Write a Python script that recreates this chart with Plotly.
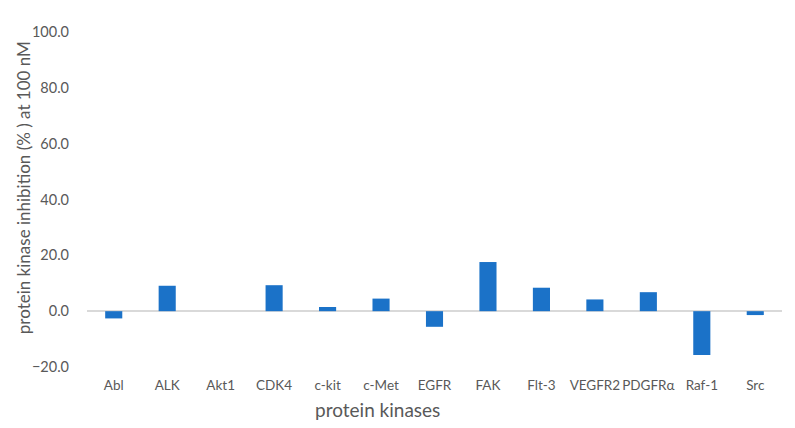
import plotly.graph_objects as go

kinases = ["Abl", "ALK", "Akt1", "CDK4", "c-kit", "c-Met", "EGFR", "FAK",
           "Flt-3", "VEGFR2", "PDGFRα", "Raf-1", "Src"]
inhibition = [-2.6, 9.1, 0.0, 9.3, 1.5, 4.5, -5.6, 17.6, 8.4, 4.2, 6.8, -15.7, -1.4]

y_ticks = [-20, 0, 20, 40, 60, 80, 100]

font_family = "Lato, 'Open Sans', sans-serif"
grey = "#595959"

fig = go.Figure(go.Bar(
    x=kinases, y=inhibition,
    marker=dict(color="#1b72c8", line=dict(width=0)),
))

fig.update_layout(
    width=795, height=428,
    margin=dict(l=79, r=21, t=24, b=69),
    paper_bgcolor="white", plot_bgcolor="white",
    bargap=0.68,
    showlegend=False,
    font=dict(family=font_family, color=grey),
    xaxis=dict(
        tickfont=dict(size=13.5, color=grey),
        tickangle=0,
        showgrid=False, showline=False, ticks="",
        zeroline=False,
        ticklabelstandoff=8,
    ),
    yaxis=dict(
        range=[-20, 100],
        tickvals=y_ticks,
        tickformat=".1f",
        tickfont=dict(size=14.5, color=grey),
        showgrid=False, showline=False, ticks="",
        zeroline=True, zerolinecolor="#d9d9d9", zerolinewidth=2,
        ticklabelstandoff=17,
    ),
    annotations=[
        dict(text="protein kinases", xref="paper", yref="paper",
             x=0.418, y=-0.128, xanchor="center", yanchor="middle",
             showarrow=False, font=dict(size=19, color=grey)),
        dict(text="protein kinase inhibition (% ) at 100 nM", xref="paper", yref="paper",
             x=-0.0915, y=0.535, xanchor="center", yanchor="middle", textangle=-90,
             showarrow=False, font=dict(size=17, color=grey)),
    ],
)

fig.write_html("out.html")
